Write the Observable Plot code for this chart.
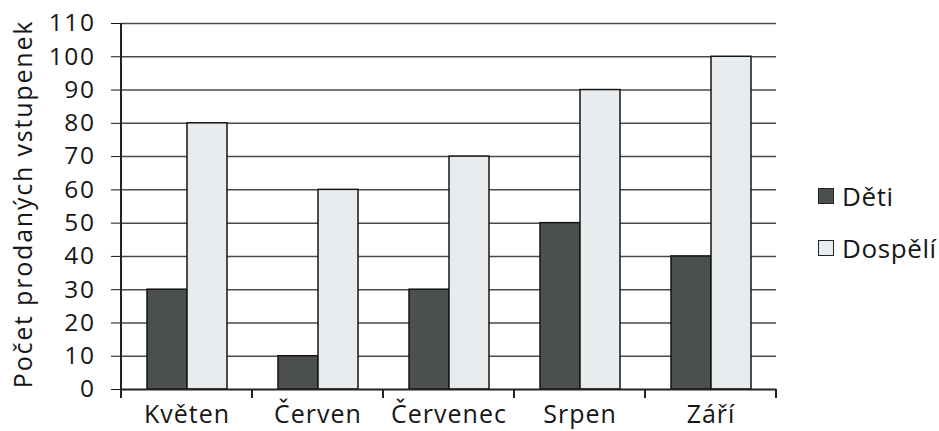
<!DOCTYPE html>
<html><head><meta charset="utf-8">
<script src="https://cdn.jsdelivr.net/npm/d3@7"></script>
<script src="https://cdn.jsdelivr.net/npm/@observablehq/plot@0.6"></script>
<style>
body{margin:0;background:#fff;}
#wrap{position:relative;width:939px;height:431px;font-family:"Open Sans",sans-serif;color:#161616;overflow:hidden;}
#wrap svg{position:absolute;left:0;top:0;}
.ytitle{position:absolute;left:22px;top:204px;transform:translate(-50%,-50%) rotate(-90deg);white-space:nowrap;font-size:25px;letter-spacing:1.8px;line-height:1;}
.legend{position:absolute;left:818px;font-size:26px;letter-spacing:0.6px;line-height:1;display:flex;align-items:center;white-space:nowrap;}
.legend .sw{width:16px;height:16px;border:1.5px solid #222;margin-right:8px;box-sizing:border-box;}
</style></head><body><div id="wrap"></div>
<script>
const months = ["Květen", "Červen", "Červenec", "Srpen", "Září"];
const series = ["Děti", "Dospělí"];
const deti = [30, 10, 30, 50, 40];
const dospeli = [80, 60, 70, 90, 100];
const yTicks = [0, 10, 20, 30, 40, 50, 60, 70, 80, 90, 100, 110];
const colors = ["#4b504d", "#e9ecef"];
const yTitle = "Počet prodaných vstupenek";

const values = {"Děti": deti, "Dospělí": dospeli};
const data = months.flatMap((m, i) => series.map(s => ({month: m, series: s, value: values[s][i]})));

const chart = Plot.plot({
  width: 939, height: 431,
  marginTop: 23, marginBottom: 42, marginLeft: 120, marginRight: 163,
  style: {fontFamily: "'Open Sans', sans-serif", fontSize: "25px", color: "#161616", background: "transparent", overflow: "visible"},
  facet: {data, x: "month"},
  fx: {domain: months, padding: 0, label: null, axis: "bottom", tickSize: 0, tickPadding: 16},
  x: {domain: series, paddingInner: 0, paddingOuter: 0.62, axis: null},
  y: {domain: [0, 110], ticks: yTicks, tickSize: 10, tickPadding: 16, label: null},
  color: {domain: series, range: colors},
  marks: [
    Plot.ruleY(yTicks.filter(d => d > 0), {stroke: "#4a4a4a", strokeWidth: 1.5}),
    Plot.barY(data, {x: "series", y: "value", fill: "series", stroke: "#151515", strokeWidth: 1.5}),
    Plot.ruleY([0], {stroke: "#222", strokeWidth: 2})
  ]
});

const wrap = document.getElementById("wrap");
wrap.appendChild(chart);

const svg = d3.select(chart);
// per-axis text sizing
svg.selectAll("[aria-label^='y-axis'] text").style("font-size", "24.5px").style("letter-spacing", "1.6px");
svg.selectAll("[aria-label^='fx-axis'] text").style("font-size", "25px").style("letter-spacing", "1px");

// category boundary ticks and y-axis line, from Plot's own scales
const fx = chart.scale("fx");
const y = chart.scale("y");
const bounds = months.map(m => fx.apply(m)).concat([fx.apply(months[months.length - 1]) + fx.bandwidth]);
const y0 = y.apply(0);
svg.append("g").attr("stroke", "#222").attr("stroke-width", 2)
  .selectAll("line").data(bounds).join("line")
  .attr("x1", d => d).attr("x2", d => d)
  .attr("y1", (d, i) => i === 0 ? y.apply(110) : y0)
  .attr("y2", y0 + 9);

const t = document.createElement("div");
t.className = "ytitle"; t.textContent = yTitle; wrap.appendChild(t);

series.forEach((s, i) => {
  const d = document.createElement("div");
  d.className = "legend";
  d.style.top = (i === 0 ? 183 : 235) + "px";
  d.innerHTML = `<span class="sw" style="background:${colors[i]}"></span><span>${s}</span>`;
  wrap.appendChild(d);
});
</script></body></html>
